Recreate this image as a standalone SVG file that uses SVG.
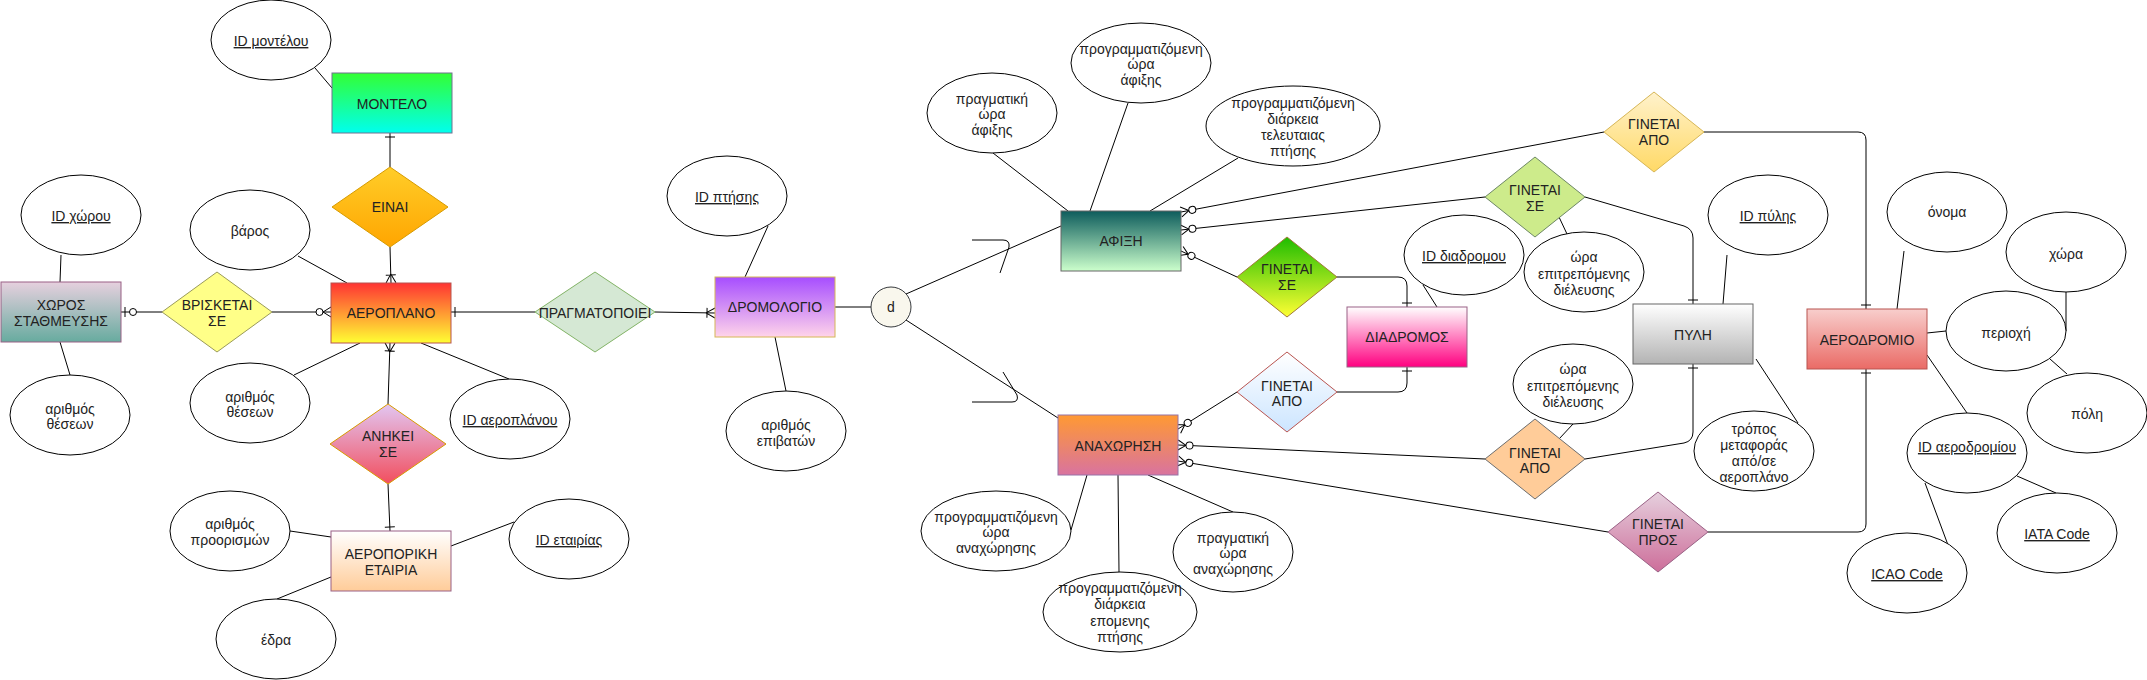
<svg xmlns="http://www.w3.org/2000/svg" width="2147" height="680" viewBox="0 0 2147 680">
<style>
.t{font-family:"Liberation Sans",Arial,Helvetica,sans-serif;font-size:14px;fill:#222;text-anchor:middle}
.u{text-decoration:underline}
.e{fill:#fff;stroke:#000;stroke-width:1}
.c path{fill:none;stroke:#000;stroke-width:1}
.m{fill:none;stroke:#000;stroke-width:1}
.mc{fill:#fff;stroke:#000;stroke-width:1}
</style>
<defs>
<linearGradient id="gMontelo" x1="0" y1="0" x2="0" y2="1"><stop offset="0" stop-color="#33ff33"/><stop offset="1" stop-color="#00ffee"/></linearGradient>
<linearGradient id="gEinai" x1="0" y1="0" x2="0" y2="1"><stop offset="0" stop-color="#ffcd28"/><stop offset="1" stop-color="#ffa500"/></linearGradient>
<linearGradient id="gXoros" x1="0" y1="0" x2="0" y2="1"><stop offset="0" stop-color="#e6d0de"/><stop offset="1" stop-color="#67ab9f"/></linearGradient>
<linearGradient id="gAeroplano" x1="0" y1="0" x2="0" y2="1"><stop offset="0" stop-color="#ff3333"/><stop offset="1" stop-color="#ffff33"/></linearGradient>
<linearGradient id="gAnikei" x1="0" y1="0" x2="0" y2="1"><stop offset="0" stop-color="#e2c6f2"/><stop offset="1" stop-color="#f24e5e"/></linearGradient>
<linearGradient id="gEtairia" x1="0" y1="0" x2="0" y2="1"><stop offset="0" stop-color="#ffffff"/><stop offset="1" stop-color="#ffcc99"/></linearGradient>
<linearGradient id="gDromologio" x1="0" y1="0" x2="0" y2="1"><stop offset="0" stop-color="#a64dff"/><stop offset="1" stop-color="#ffd4ea"/></linearGradient>
<linearGradient id="gAfixi" x1="0" y1="0" x2="0" y2="1"><stop offset="0" stop-color="#0d5c5c"/><stop offset="1" stop-color="#ccffcc"/></linearGradient>
<linearGradient id="gGinSe1" x1="0" y1="0" x2="0" y2="1"><stop offset="0" stop-color="#1ebd00"/><stop offset="1" stop-color="#ffff33"/></linearGradient>
<linearGradient id="gGinApoB" x1="0" y1="0" x2="0" y2="1"><stop offset="0" stop-color="#ffffff"/><stop offset="1" stop-color="#cce5ff"/></linearGradient>
<linearGradient id="gDiadromos" x1="0" y1="0" x2="0" y2="1"><stop offset="0" stop-color="#ffffff"/><stop offset="1" stop-color="#ff0080"/></linearGradient>
<linearGradient id="gAnaxorisi" x1="0" y1="0" x2="0" y2="1"><stop offset="0" stop-color="#ff9933"/><stop offset="1" stop-color="#d9739f"/></linearGradient>
<linearGradient id="gGinApoY" x1="0" y1="0" x2="0" y2="1"><stop offset="0" stop-color="#fff2cc"/><stop offset="1" stop-color="#ffd966"/></linearGradient>
<linearGradient id="gPyli" x1="0" y1="0" x2="0" y2="1"><stop offset="0" stop-color="#ffffff"/><stop offset="1" stop-color="#b3b3b3"/></linearGradient>
<linearGradient id="gGinPros" x1="0" y1="0" x2="0" y2="1"><stop offset="0" stop-color="#e6d0de"/><stop offset="1" stop-color="#cd6e9a"/></linearGradient>
<linearGradient id="gAerodromio" x1="0" y1="0" x2="0" y2="1"><stop offset="0" stop-color="#f8cecc"/><stop offset="1" stop-color="#ea6b66"/></linearGradient>
<marker id="one" markerUnits="userSpaceOnUse" viewBox="-20 -10 24 20" refX="0" refY="0" markerWidth="24" markerHeight="20" orient="auto" overflow="visible"><path class="m" d="M-4,-5 L-4,5"/></marker>
<marker id="oneMany" markerUnits="userSpaceOnUse" viewBox="-20 -10 24 20" refX="0" refY="0" markerWidth="24" markerHeight="20" orient="auto" overflow="visible"><path class="m" d="M-9,0 L0,-5 M-9,0 L0,5 M-8,-5 L-8,5"/></marker>
<marker id="zeroMany" markerUnits="userSpaceOnUse" viewBox="-20 -10 24 20" refX="0" refY="0" markerWidth="24" markerHeight="20" orient="auto" overflow="visible"><path class="m" d="M-8,0 L0,-5 M-8,0 L0,5"/><circle class="mc" cx="-11.5" cy="0" r="3.5"/></marker>
<marker id="zeroOne" markerUnits="userSpaceOnUse" viewBox="-20 -10 24 20" refX="0" refY="0" markerWidth="24" markerHeight="20" orient="auto" overflow="visible"><path class="m" d="M-4,-5 L-4,5"/><circle class="mc" cx="-12" cy="0" r="3.5"/></marker>
</defs>
<rect width="2147" height="680" fill="#fff"/>

<g id="connectors" class="c">
<path d="M315,68 L332,88"/>
<path d="M390,167 L390,133" marker-end="url(#one)"/>
<path d="M390,247 L391,283" marker-end="url(#oneMany)"/>
<path d="M61,255 L60,282"/>
<path d="M60,342 L70,375"/>
<path d="M162,312 L121,312" marker-end="url(#zeroOne)"/>
<path d="M272,312 L331,312" marker-end="url(#zeroMany)"/>
<path d="M298,256 L347,283"/>
<path d="M360,343 L294,375"/>
<path d="M421,343 L509,379"/>
<path d="M388,404 L390,343" marker-end="url(#oneMany)"/>
<path d="M388,484 L390,531" marker-end="url(#one)"/>
<path d="M290,531 L331,537"/>
<path d="M451,546 L514,522"/>
<path d="M331,577 L277,599"/>
<path d="M535,312 L451,312" marker-end="url(#one)"/>
<path d="M655,312 L715,313" marker-end="url(#oneMany)"/>
<path d="M768,226 L745,277"/>
<path d="M775,337 L786,391"/>
<path d="M835,307 L871,307"/>
<path d="M906,294 L1061,226"/>
<path d="M906,320 L1058,418"/>
<path d="M972,240 L1003,240 Q1010,240 1009,247 L1000,273"/>
<path d="M972,402 L1012,402 Q1019,402 1017,395 L1003,372"/>
<path d="M993,153 L1068,211"/>
<path d="M1128,103 L1090,211"/>
<path d="M1238,158 L1150,211"/>
<path d="M1604,132 L1181,212" marker-end="url(#zeroMany)"/>
<path d="M1485,197 L1181,230" marker-end="url(#zeroMany)"/>
<path d="M1237,277 L1181,251" marker-end="url(#zeroMany)"/>
<path d="M1337,277 L1398,277 Q1407,277 1407,286 L1407,307" marker-end="url(#one)"/>
<path d="M1337,392 L1398,392 Q1407,392 1407,383 L1407,367" marker-end="url(#one)"/>
<path d="M1237,392 L1178,429" marker-end="url(#zeroMany)"/>
<path d="M1485,459 L1178,445" marker-end="url(#zeroMany)"/>
<path d="M1608,532 L1178,461" marker-end="url(#zeroMany)"/>
<path d="M1087,475 L1071,530"/>
<path d="M1118,475 L1119,572"/>
<path d="M1148,475 L1233,512"/>
<path d="M1423,285 L1437,307"/>
<path d="M1585,197 L1684,226 Q1693,229 1693,238 L1693,304" marker-end="url(#one)"/>
<path d="M1559,217 L1567,234"/>
<path d="M1727,255 L1723,304"/>
<path d="M1704,132 L1858,132 Q1866,132 1866,140 L1866,309" marker-end="url(#one)"/>
<path d="M1585,459 L1684,443 Q1693,441 1693,432 L1693,364" marker-end="url(#one)"/>
<path d="M1573,424 L1559,439"/>
<path d="M1756,359 L1798,423"/>
<path d="M1708,532 L1858,532 Q1866,532 1866,524 L1866,369" marker-end="url(#one)"/>
<path d="M1904,251 L1897,309"/>
<path d="M1927,333 L1946,331"/>
<path d="M2066,292 L2066,331"/>
<path d="M2050,359 L2067,374"/>
<path d="M1927,355 L1967,413"/>
<path d="M2017,476 L2056,493"/>
<path d="M1925,483 L1948,545"/>
</g>

<g id="id-montelou"><ellipse class="e" cx="271" cy="40" rx="60" ry="40"/><text class="t u" x="271" y="46">ID μοντέλου</text></g>
<g id="montelo"><rect x="332" y="73" width="120" height="60" fill="url(#gMontelo)" stroke="#707090"/><text class="t" x="392" y="109">ΜΟΝΤΕΛΟ</text></g>
<g id="einai"><polygon points="332,207 390,167 448,207 390,247" fill="url(#gEinai)" stroke="#d79b00"/><text class="t" x="390" y="212">ΕΙΝΑΙ</text></g>
<g id="id-xorou"><ellipse class="e" cx="81" cy="215" rx="60" ry="40"/><text class="t u" x="81" y="221">ID χώρου</text></g>
<g id="xoros"><rect x="1" y="282" width="120" height="60" fill="url(#gXoros)" stroke="#996185"/><text class="t" x="61" y="310">ΧΩΡΟΣ</text><text class="t" x="61" y="326">ΣΤΑΘΜΕΥΣΗΣ</text></g>
<g id="vrisketai"><polygon points="162,312 217,272 272,312 217,352" fill="#ffff88" stroke="#9a9a5a"/><text class="t" x="217" y="310">ΒΡΙΣΚΕΤΑΙ</text><text class="t" x="217" y="326">ΣΕ</text></g>
<g id="varos"><ellipse class="e" cx="250" cy="230" rx="60" ry="40"/><text class="t" x="250" y="236">βάρος</text></g>
<g id="aeroplano"><rect x="331" y="283" width="120" height="60" fill="url(#gAeroplano)" stroke="#b85450"/><text class="t" x="391" y="318">ΑΕΡΟΠΛΑΝΟ</text></g>
<g id="arithmos-theseon-1"><ellipse class="e" cx="70" cy="415" rx="60" ry="40"/><text class="t" x="70" y="414">αριθμός</text><text class="t" x="70" y="429">θέσεων</text></g>
<g id="arithmos-theseon-2"><ellipse class="e" cx="250" cy="403" rx="60" ry="40"/><text class="t" x="250" y="402">αριθμός</text><text class="t" x="250" y="417">θέσεων</text></g>
<g id="id-aeroplanou"><ellipse class="e" cx="510" cy="419" rx="60" ry="40"/><text class="t u" x="510" y="425">ID αεροπλάνου</text></g>
<g id="anikei"><polygon points="330,444 388,404 446,444 388,484" fill="url(#gAnikei)" stroke="#d79b00"/><text class="t" x="388" y="441">ΑΝΗΚΕΙ</text><text class="t" x="388" y="457">ΣΕ</text></g>
<g id="aeroporiki"><rect x="331" y="531" width="120" height="60" fill="url(#gEtairia)" stroke="#996185"/><text class="t" x="391" y="559">ΑΕΡΟΠΟΡΙΚΗ</text><text class="t" x="391" y="575">ΕΤΑΙΡΙΑ</text></g>
<g id="arithmos-proorismon"><ellipse class="e" cx="230" cy="531" rx="60" ry="40"/><text class="t" x="230" y="529">αριθμός</text><text class="t" x="230" y="545">προορισμών</text></g>
<g id="id-etairias"><ellipse class="e" cx="569" cy="539" rx="60" ry="40"/><text class="t u" x="569" y="545">ID εταιρίας</text></g>
<g id="edra"><ellipse class="e" cx="276" cy="639" rx="60" ry="40"/><text class="t" x="276" y="645">έδρα</text></g>
<g id="pragmatopoiei"><polygon points="535,312 595,272 655,312 595,352" fill="#d5e8d4" stroke="#82b366"/><text class="t" x="595" y="318">ΠΡΑΓΜΑΤΟΠΟΙΕΙ</text></g>
<g id="id-ptisis"><ellipse class="e" cx="727" cy="196" rx="60" ry="40"/><text class="t u" x="727" y="202">ID πτήσης</text></g>
<g id="dromologio"><rect x="715" y="277" width="120" height="60" fill="url(#gDromologio)" stroke="#d6b656"/><text class="t" x="775" y="312">ΔΡΟΜΟΛΟΓΙΟ</text></g>
<g id="d"><circle cx="891" cy="307" r="20" fill="#f9f7ed" stroke="#36393d"/><text class="t" x="891" y="312">d</text></g>
<g id="arithmos-epivaton"><ellipse class="e" cx="786" cy="431" rx="60" ry="40"/><text class="t" x="786" y="430">αριθμός</text><text class="t" x="786" y="446">επιβατών</text></g>
<g id="pragm-ora-afixis"><ellipse class="e" cx="992" cy="113" rx="65" ry="40"/><text class="t" x="992" y="104">πραγματική</text><text class="t" x="992" y="119">ώρα</text><text class="t" x="992" y="135">άφιξης</text></g>
<g id="progr-ora-afixis"><ellipse class="e" cx="1141" cy="63" rx="70" ry="40"/><text class="t" x="1141" y="54">προγραμματιζόμενη</text><text class="t" x="1141" y="69">ώρα</text><text class="t" x="1141" y="85">άφιξης</text></g>
<g id="progr-diarkeia-teleut"><ellipse class="e" cx="1293" cy="126" rx="87" ry="40"/><text class="t" x="1293" y="108">προγραμματιζόμενη</text><text class="t" x="1293" y="124">διάρκεια</text><text class="t" x="1293" y="140">τελευταιας</text><text class="t" x="1293" y="156">πτήσης</text></g>
<g id="afixi"><rect x="1061" y="211" width="120" height="60" fill="url(#gAfixi)" stroke="#666666"/><text class="t" x="1121" y="246">ΑΦΙΞΗ</text></g>
<g id="ginetai-se-1"><polygon points="1237,277 1287,237 1337,277 1287,317" fill="url(#gGinSe1)" stroke="#a07a3a"/><text class="t" x="1287" y="274">ΓΙΝΕΤΑΙ</text><text class="t" x="1287" y="290">ΣΕ</text></g>
<g id="anaxorisi"><rect x="1058" y="415" width="120" height="60" fill="url(#gAnaxorisi)" stroke="#9673a6"/><text class="t" x="1118" y="451">ΑΝΑΧΩΡΗΣΗ</text></g>
<g id="ginetai-apo-1"><polygon points="1237,392 1287,352 1337,392 1287,432" fill="url(#gGinApoB)" stroke="#b85450"/><text class="t" x="1287" y="391">ΓΙΝΕΤΑΙ</text><text class="t" x="1287" y="406">ΑΠΟ</text></g>
<g id="progr-ora-anax"><ellipse class="e" cx="996" cy="531" rx="75" ry="40"/><text class="t" x="996" y="522">προγραμματιζόμενη</text><text class="t" x="996" y="537">ώρα</text><text class="t" x="996" y="553">αναχώρησης</text></g>
<g id="progr-diarkeia-epom"><ellipse class="e" cx="1120" cy="612" rx="77" ry="40"/><text class="t" x="1120" y="593">προγραμματιζόμενη</text><text class="t" x="1120" y="609">διάρκεια</text><text class="t" x="1120" y="626">επομενης</text><text class="t" x="1120" y="642">πτήσης</text></g>
<g id="pragm-ora-anax"><ellipse class="e" cx="1233" cy="552" rx="60" ry="40"/><text class="t" x="1233" y="543">πραγματική</text><text class="t" x="1233" y="558">ώρα</text><text class="t" x="1233" y="574">αναχώρησης</text></g>
<g id="ginetai-apo-2"><polygon points="1604,132 1654,92 1704,132 1654,172" fill="url(#gGinApoY)" stroke="#d6b656"/><text class="t" x="1654" y="129">ΓΙΝΕΤΑΙ</text><text class="t" x="1654" y="145">ΑΠΟ</text></g>
<g id="ginetai-se-2"><polygon points="1485,197 1535,157 1585,197 1535,237" fill="#cdeb8b" stroke="#6d8764"/><text class="t" x="1535" y="195">ΓΙΝΕΤΑΙ</text><text class="t" x="1535" y="211">ΣΕ</text></g>
<g id="id-diadromou"><ellipse class="e" cx="1464" cy="255" rx="60" ry="40"/><text class="t u" x="1464" y="261">ID διαδρομου</text></g>
<g id="ora-dieleusis-1"><ellipse class="e" cx="1584" cy="272" rx="60" ry="40"/><text class="t" x="1584" y="262">ώρα</text><text class="t" x="1584" y="279">επιτρεπόμενης</text><text class="t" x="1584" y="295">διέλευσης</text></g>
<g id="diadromos"><rect x="1347" y="307" width="120" height="60" fill="url(#gDiadromos)" stroke="#996185"/><text class="t" x="1407" y="342">ΔΙΑΔΡΟΜΟΣ</text></g>
<g id="id-pylis"><ellipse class="e" cx="1768" cy="215" rx="60" ry="40"/><text class="t u" x="1768" y="221">ID πύλης</text></g>
<g id="pyli"><rect x="1633" y="304" width="120" height="60" fill="url(#gPyli)" stroke="#666666"/><text class="t" x="1693" y="340">ΠΥΛΗ</text></g>
<g id="ora-dieleusis-2"><ellipse class="e" cx="1573" cy="384" rx="60" ry="40"/><text class="t" x="1573" y="374">ώρα</text><text class="t" x="1573" y="391">επιτρεπόμενης</text><text class="t" x="1573" y="407">διέλευσης</text></g>
<g id="ginetai-apo-3"><polygon points="1485,459 1535,419 1585,459 1535,499" fill="#ffcc99" stroke="#6d6d6d"/><text class="t" x="1535" y="458">ΓΙΝΕΤΑΙ</text><text class="t" x="1535" y="473">ΑΠΟ</text></g>
<g id="tropos-metaforas"><ellipse class="e" cx="1754" cy="451" rx="60" ry="40"/><text class="t" x="1754" y="434">τρόπος</text><text class="t" x="1754" y="450">μεταφοράς</text><text class="t" x="1754" y="466">από/σε</text><text class="t" x="1754" y="482">αεροπλάνο</text></g>
<g id="ginetai-pros"><polygon points="1608,532 1658,492 1708,532 1658,572" fill="url(#gGinPros)" stroke="#996185"/><text class="t" x="1658" y="529">ΓΙΝΕΤΑΙ</text><text class="t" x="1658" y="545">ΠΡΟΣ</text></g>
<g id="aerodromio"><rect x="1807" y="309" width="120" height="60" fill="url(#gAerodromio)" stroke="#b85450"/><text class="t" x="1867" y="345">ΑΕΡΟΔΡΟΜΙΟ</text></g>
<g id="onoma"><ellipse class="e" cx="1947" cy="212" rx="60" ry="40"/><text class="t" x="1947" y="217">όνομα</text></g>
<g id="xora"><ellipse class="e" cx="2066" cy="252" rx="60" ry="40"/><text class="t" x="2066" y="259">χώρα</text></g>
<g id="perioxi"><ellipse class="e" cx="2006" cy="331" rx="60" ry="40"/><text class="t" x="2006" y="338">περιοχή</text></g>
<g id="poli"><ellipse class="e" cx="2087" cy="413" rx="60" ry="40"/><text class="t" x="2087" y="419">πόλη</text></g>
<g id="id-aerodromiou"><ellipse class="e" cx="1967" cy="453" rx="60" ry="40"/><text class="t u" x="1967" y="452">ID αεροδρομίου</text></g>
<g id="iata"><ellipse class="e" cx="2057" cy="533" rx="60" ry="40"/><text class="t u" x="2057" y="539">IATA Code</text></g>
<g id="icao"><ellipse class="e" cx="1907" cy="573" rx="60" ry="40"/><text class="t u" x="1907" y="579">ICAO Code</text></g>
</svg>
